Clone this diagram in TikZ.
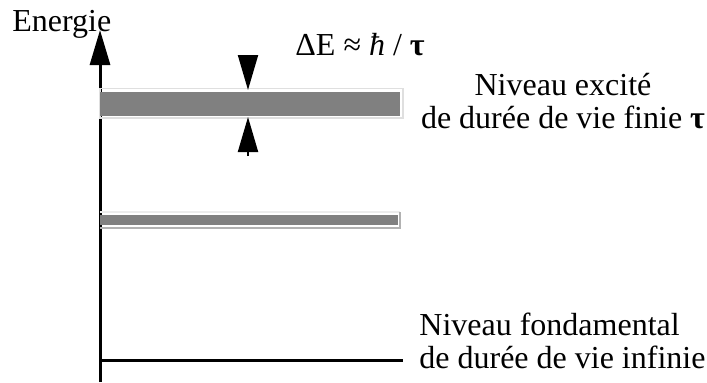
\documentclass[tikz,border=0pt]{standalone}
\usepackage{fontspec}
\setmainfont{Liberation Serif}
\usepackage{tikz}
\usetikzlibrary{arrows.meta, positioning}

\begin{document}
\begin{tikzpicture}[
    x=0.5pt, y=-0.5pt,
    font=\fontsize{16}{16.5}\selectfont,
    bigtip/.style={-{Triangle[length=17.5pt, width=10pt]}},
    axisline/.style={line width=1.5pt},
    label/.style={inner sep=0pt},
]
    \useasboundingbox (0,0) rectangle (707,382);

    % Axis
    \coordinate (axisfoot) at (100,382);
    \coordinate (axistop) at (100,30);
    \draw[axisline, bigtip] (axisfoot) -- (axistop);
    \node[label, anchor=base west] (energie) at (12,31) {Energie};

    % Excited level (broad)
    \draw[gray!25, line width=0.6pt] (100,88.5) rectangle (403,118);
    \fill[gray] (100,91.5) rectangle (400,115.5);

    % Second level
    \draw[gray!15, line width=0.6pt] (100,212) -- (400,212);
    \draw[gray!60, line width=0.6pt] (400,212) -- (400,228) -- (100,228);
    \fill[gray] (100,214.5) rectangle (397.5,225);

    % Ground level
    \coordinate (groundend) at (403,360);
    \draw[axisline] (100,360) -- (groundend);

    % Width arrows
    \coordinate (wtopstart) at (248,55);
    \coordinate (wtopend) at (248,90);
    \coordinate (wbotstart) at (248,156);
    \coordinate (wbotend) at (248,117);
    \draw[line width=1pt, bigtip] (wtopstart) -- (wtopend);
    \draw[line width=1pt, bigtip] (wbotstart) -- (wbotend);
    \node[label, anchor=base west] (width) at (295,55) {ΔE ≈ \textit{ħ} / \textbf{τ}};

    % Labels (base = last line)
    \node[label, anchor=base, align=center] (excited) at (563,128)
        {Niveau excité\\de durée de vie finie \textbf{τ}};
    \node[label, anchor=base west, align=left] (ground) at (419,368)
        {Niveau fondamental\\de durée de vie infinie};

\end{tikzpicture}
\end{document}
